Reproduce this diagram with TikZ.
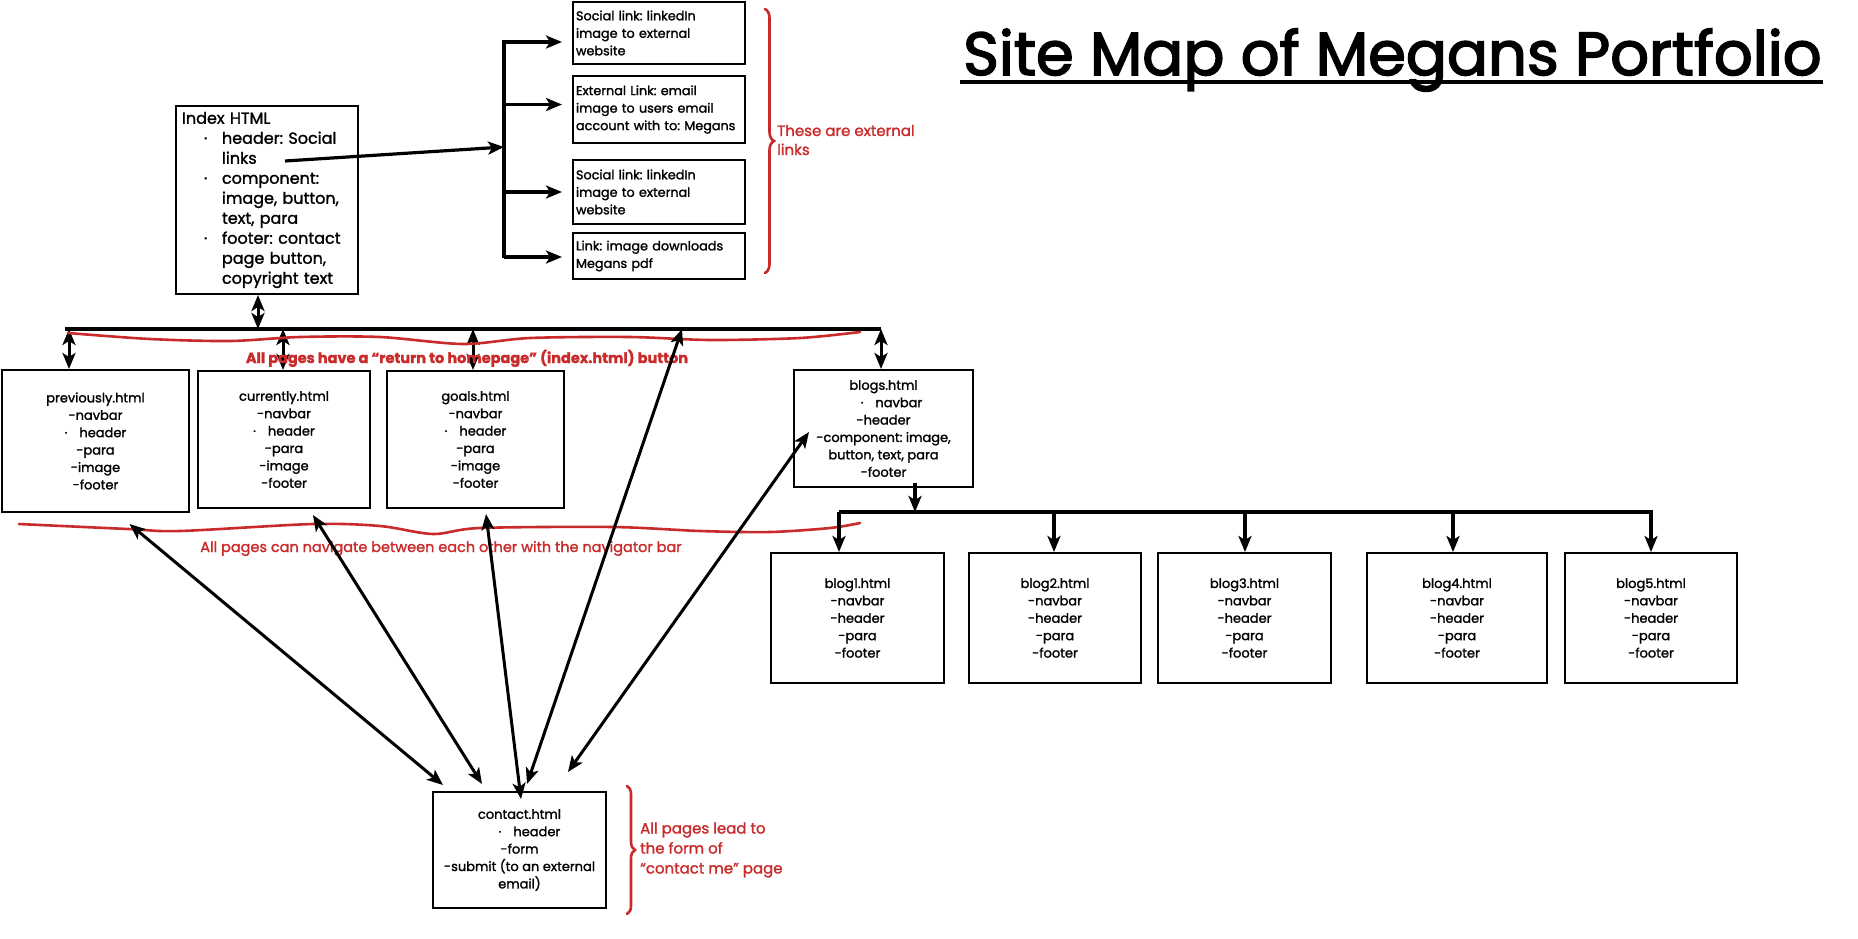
\documentclass[tikz,border=0pt]{standalone}
\usepackage{fontspec}
\setmainfont{Poppins}
\newfontfamily\sketchfont{Poppins}[FakeBold=1.5]
\newfontfamily\titlefont{Poppins}[FakeBold=2.6]
\usepackage{xcolor}
\usetikzlibrary{arrows.meta, decorations.pathreplacing, calc, positioning}

\definecolor{redpen}{RGB}{201,42,42}
\newcommand{\bul}{\hspace*{22pt}\makebox[18pt][l]{·}}
\newcommand{\ind}{\hspace*{40pt}}

\tikzset{
    page/.style={draw, line width=2pt, align=center, inner sep=0pt, font=\sketchfont\frenchspacing\fontsize{13}{17.4}\selectfont},
    extbox/.style={draw, line width=2pt, align=left, inner xsep=3pt, inner ysep=0pt, text width=166pt, font=\sketchfont\frenchspacing\fontsize{12.8}{17.5}\selectfont},
    arr/.style={line width=3.2pt, -{Stealth[length=16pt, width=13pt, inset=4pt]}},
    darr/.style={line width=3pt, {Stealth[length=16pt, width=13pt, inset=4pt]}-{Stealth[length=16pt, width=13pt, inset=4pt]}},
    bus/.style={line width=4pt},
    redline/.style={draw=redpen, line width=2.6pt, line cap=round},
    note/.style={text=redpen, inner sep=0pt, font=\sketchfont\frenchspacing\fontsize{14.5}{19}\selectfont}
}

\begin{document}
\begin{tikzpicture}[x=1pt, y=-1pt]
    \useasboundingbox (0,0) rectangle (1858,938);

    % title
    \node[anchor=base west, inner sep=0pt, font=\titlefont\fontsize{60.8}{70}\selectfont] (title) at (963,75) {Site Map of Megans Portfolio};
    \draw[line width=4.5pt] ($(title.base west)+(-3,7)$) -- ($(title.base east)+(1,7)$);

    % index page and external links
    \node[page, align=left, text width=170pt, inner xsep=6pt, minimum height=188pt, font=\sketchfont\frenchspacing\fontsize{16}{20}\selectfont] (index) at (267,200)
        {Index HTML\\ \bul header: Social\\ \ind links\\ \bul component:\\ \ind image, button,\\ \ind text, para\\ \bul footer: contact\\ \ind page button,\\ \ind copyright text};

    \node[extbox, minimum height=62pt] (ext1) at (659,33) {Social link: linkedIn\\image to external\\website};
    \node[extbox, minimum height=67pt] (ext2) at (659,109.5) {External Link: email\\image to users email\\account with to: Megans};
    \node[extbox, minimum height=64pt] (ext3) at (659,192) {Social link: linkedIn\\image to external\\website};
    \node[extbox, minimum height=46pt] (ext4) at (659,256) {Link: image downloads\\Megans pdf};

    \coordinate (ttop) at (504,40);
    \coordinate (tbot) at (504,258);
    \coordinate (tmid) at (504,147);
    \coordinate (links) at (285,161);
    \draw[bus] (ttop) -- (tbot);
    \draw[arr] (links) -- (tmid);
    \foreach \n/\dy in {ext1/9, ext2/-5, ext3/0, ext4/1}
        \draw[arr] ($(ttop |- \n.west)+(0,\dy)$) -- ($(\n.west)+(-10,\dy)$);

    \draw[redline, decorate, decoration={brace, amplitude=9pt}] ($(ext1.north east)+(19,8)$) -- ($(ext4.south east)+(19,-7)$);
    \node[note, anchor=west, align=left, font=\sketchfont\fontsize{15}{19}\selectfont] (extnote) at (777,140) {These are external\\links};

    % pages
    \node[page, minimum width=187pt, minimum height=142pt] (prev) at (95.5,441) {previously.html\\-navbar\\·\hspace{12pt}header\\-para\\-image\\-footer};
    \node[page, minimum width=172pt, minimum height=137pt] (curr) at (284,439.5) {currently.html\\-navbar\\·\hspace{12pt}header\\-para\\-image\\-footer};
    \node[page, minimum width=177pt, minimum height=137pt] (goals) at (475.5,439.5) {goals.html\\-navbar\\·\hspace{12pt}header\\-para\\-image\\-footer};
    \node[page, minimum width=179pt, minimum height=117pt] (blogs) at (883.5,428.5) {blogs.html\\\hspace{16pt}·\hspace{12pt}navbar\\-header\\-component: image,\\button, text, para\\-footer};

    % return to homepage bus
    \coordinate (busL) at (65,329);
    \coordinate (busR) at (881,329);
    \coordinate (bI) at (258,329);
    \coordinate (b1) at (69,329);
    \coordinate (b2) at (283,329);
    \coordinate (b3) at (473,329);
    \coordinate (bC) at (682,329);
    \draw[bus] (busL) -- (busR);
    \draw[darr] (bI |- index.south) -- (bI);
    \draw[darr] (b1) -- (b1 |- prev.north);
    \draw[darr] (b2) -- (b2 |- curr.north);
    \draw[darr] (b3) -- (b3 |- goals.north);
    \draw[darr] (busR) -- (busR |- blogs.north);

    \draw[redline] plot[smooth] coordinates {(68,333) (150,339) (230,341) (300,337) (380,337) (463,344) (530,338) (630,337) (710,340) (800,338) (860,332)};
    \node[note, anchor=base, font=\sketchfont\frenchspacing\fontsize{14.5}{19}\selectfont\bfseries] (retnote) at (467,363) {All pages have a “return to homepage” (index.html) button};

    \draw[redline] plot[smooth] coordinates {(19,524) (128,529) (180,531) (313,524) (380,526) (433,534) (480,528) (613,527) (700,531) (770,532) (830,528) (860,523)};
    \node[note, anchor=base] (navnote) at (441,552) {All pages can navigate between each other with the navigator bar};

    % blogs
    \coordinate (bb) at (915,512);
    \coordinate (bbL) at (839,512);
    \coordinate (bbR) at (1653,512);
    \draw[arr] ($(bb |- blogs.south)+(0,-5)$) -- (bb);
    \draw[bus] (bbL) -- (bbR);
    \foreach \i/\x/\dx/\w in {1/857.5/839/173, 2/1055/1054/172, 3/1244.5/1245/173, 4/1457/1453/180, 5/1651/1651/172} {
        \node[page, minimum width=\w pt, minimum height=130pt] (blog\i) at (\x,618) {blog\i.html\\-navbar\\-header\\-para\\-footer};
        \coordinate (d\i) at (\dx,512);
        \draw[arr] (d\i) -- (d\i |- blog\i.north);
    }

    % contact page
    \node[page, minimum width=173pt, minimum height=116pt] (contact) at (519.5,850) {contact.html\\\hspace{20pt}·\hspace{12pt}header\\-form\\-submit (to an external\\email)};

    \draw[darr] ($(prev.south)+(34,11)$) -- ($(contact.north west)+(11,-6)$);
    \draw[darr] ($(curr.south)+(29,6)$) -- ($(contact.north)+(-37.5,-7)$);
    \draw[darr] ($(goals.south)+(10.5,5)$) -- ($(contact.north)+(1.5,8)$);
    \draw[darr] (bC) -- ($(contact.north)+(7.5,-7)$);
    \draw[darr] ($(blogs.west)+(16,3.5)$) -- ($(contact.north east)+(-39,-19)$);

    \draw[redline, decorate, decoration={brace, amplitude=8pt}] ($(contact.north east)+(20,-5)$) -- ($(contact.south east)+(20,5)$);
    \node[note, anchor=west, align=left, font=\sketchfont\fontsize{15}{20}\selectfont] (contactnote) at (640,850) {All pages lead to\\the form of\\“contact me” page};
\end{tikzpicture}
\end{document}
